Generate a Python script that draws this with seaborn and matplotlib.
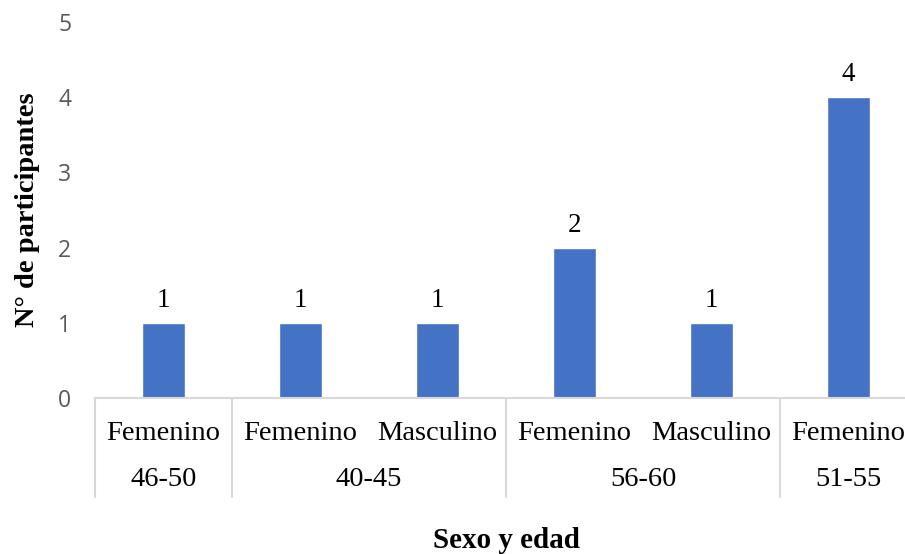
import pandas as pd
import matplotlib
matplotlib.use('Agg')
import matplotlib.pyplot as plt
import matplotlib.transforms as mtransforms
import seaborn as sns

# data
grupos = ['46-50', '40-45', '40-45', '56-60', '56-60', '51-55']
sexos = ['Femenino', 'Femenino', 'Masculino', 'Femenino', 'Masculino', 'Femenino']
participantes = [1, 1, 1, 2, 1, 4]

df = pd.DataFrame({'grupo': grupos, 'sexo': sexos, 'n': participantes})
df['clave'] = df['grupo'] + ' ' + df['sexo']

sns.set_style('white')
plt.rcParams['text.color'] = 'black'
plt.rcParams['axes.labelcolor'] = 'black'
serif = 'Liberation Serif'

fig = plt.figure(figsize=(9.05, 5.54), dpi=100)
ax = fig.add_axes([95 / 905, 156 / 554, 822 / 905, 376 / 554])

sns.barplot(data=df, x='clave', y='n', order=list(df['clave']),
            color='#4472C4', width=0.31, saturation=1, ax=ax)

ax.set_ylim(0, 5)
ax.set_yticks(range(0, 6))
ax.tick_params(axis='y', length=0, pad=17, labelsize=16.5, labelcolor='#595959')
for t in ax.get_yticklabels():
    t.set_fontfamily('Open Sans')

ax.set_xticks([])
ax.set_xlim(-0.5, len(df) - 0.5)

for s in ['left', 'right', 'top']:
    ax.spines[s].set_visible(False)
ax.spines['bottom'].set_color('#d9d9d9')
ax.spines['bottom'].set_linewidth(1.5)

# data labels
for p, v in zip(ax.patches, df['n']):
    ax.annotate(str(v), (p.get_x() + p.get_width() / 2, p.get_height()),
                xytext=(0, 7), textcoords='offset points', ha='center', va='bottom',
                fontsize=19.5, fontfamily=serif, color='black')

# hierarchical category axis
trans = mtransforms.blended_transform_factory(ax.transData, ax.transAxes)
for i, s in enumerate(df['sexo']):
    ax.text(i, -35 / 376, s, transform=trans, ha='center', va='center',
            fontsize=20.5, fontfamily=serif, color='black', clip_on=False)

bordes = [-0.5]
for g in pd.unique(df['grupo']):
    idx = list(df.index[df['grupo'] == g])
    ax.text(sum(idx) / len(idx), -82 / 376, g, transform=trans, ha='center', va='center',
            fontsize=20.5, fontfamily=serif, color='black', clip_on=False)
    bordes.append(max(idx) + 0.5)

for b in bordes:
    ax.plot([b, b], [0, -99 / 376], transform=trans, color='#d9d9d9',
            lw=1.5, clip_on=False)

ax.set_xlabel('Sexo y edad', fontsize=21, fontweight='bold', fontfamily=serif, color='black')
ax.xaxis.set_label_coords(0.5, -142 / 376)
ax.xaxis.label.set_va('center')
ax.set_ylabel('N° de participantes', fontsize=20.5, fontweight='bold', fontfamily=serif, color='black')
ax.yaxis.set_label_coords(-67 / 822, 0.5)
ax.yaxis.label.set_va('center')

fig.savefig('out.png', dpi=100)
